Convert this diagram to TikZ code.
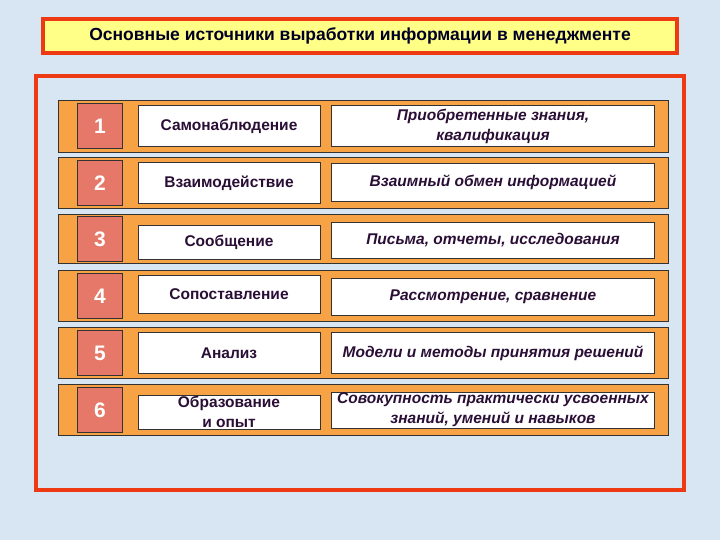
\documentclass[tikz,border=0pt]{standalone}
\usepackage{fontspec}
\setmainfont{Liberation Sans}
\begin{document}
\begin{tikzpicture}[x=1pt,y=-1pt,
  row/.style={draw=black!80,line width=0.8pt,fill=rowor},
  numbox/.style={draw=black!80,line width=0.8pt,fill=numc,minimum width=45pt,minimum height=45pt,font=\fontsize{21}{24}\selectfont\bfseries,text=white},
  midbox/.style={draw=black!80,line width=0.8pt,fill=white,minimum width=182pt,inner sep=1pt,font=\fontsize{15.5}{20}\selectfont\bfseries,text=txtc,align=center},
  rbox/.style={draw=black!80,line width=0.8pt,fill=white,minimum width=323pt,inner sep=1pt,font=\fontsize{15.5}{20}\selectfont\bfseries\itshape,text=txtc,align=center}]
\definecolor{bgc}{HTML}{D8E6F4}
\definecolor{rowor}{HTML}{F7A244}
\definecolor{numc}{HTML}{E57868}
\definecolor{txtc}{HTML}{2A0E36}
\definecolor{redc}{HTML}{EE3A12}
\definecolor{yel}{HTML}{FFFF88}
\fill[bgc] (0,0) rectangle (720,540);
\useasboundingbox (0,0) rectangle (720,540);
\node[draw=redc,line width=3.5pt,fill=yel,minimum width=634pt,minimum height=34pt,font=\fontsize{17.5}{19}\selectfont\bfseries,text=black!85!blue] (title) at (360,36) {Основные источники выработки информации в менеджменте};
\node[draw=redc,line width=4.5pt,fill=bgc,minimum width=648pt,minimum height=414pt] (frame) at (360,283) {};
\foreach \i/\t/\b in {1/100/152,2/157/208,3/214/263,4/270/321,5/327/378,6/384/435}{
  \draw[row] (58,\t) rectangle (668,\b);
}
\node[numbox] (n1) at (100,126) {1};
\node[numbox] (n2) at (100,183) {2};
\node[numbox] (n3) at (100,239) {3};
\node[numbox] (n4) at (100,296) {4};
\node[numbox] (n5) at (100,353) {5};
\node[numbox] (n6) at (100,410) {6};
\node[midbox,minimum height=41pt] (m1) at (229,126) {Самонаблюдение};
\node[midbox,minimum height=41pt] (m2) at (229,183) {Взаимодействие};
\node[midbox,minimum height=34pt] (m3) at (229,242) {Сообщение};
\node[midbox,minimum height=38pt] (m4) at (229,294) {Сопоставление};
\node[midbox,minimum height=41pt] (m5) at (229,353) {Анализ};
\node[midbox,minimum height=34pt] (m6) at (229,412) {Образование\\и опыт};
\node[rbox,minimum height=41pt] (r1) at (493,126) {Приобретенные знания,\\квалификация};
\node[rbox,minimum height=38pt] (r2) at (493,182) {Взаимный обмен информацией};
\node[rbox,minimum height=36pt] (r3) at (493,240) {Письма, отчеты, исследования};
\node[rbox,minimum height=37pt] (r4) at (493,297) {Рассмотрение, сравнение};
\node[rbox,minimum height=41pt] (r5) at (493,353) {Модели и методы принятия решений};
\node[rbox,minimum height=34pt] (r6) at (493,410) {Совокупность практически усвоенных\\знаний, умений и навыков};
\end{tikzpicture}
\end{document}
